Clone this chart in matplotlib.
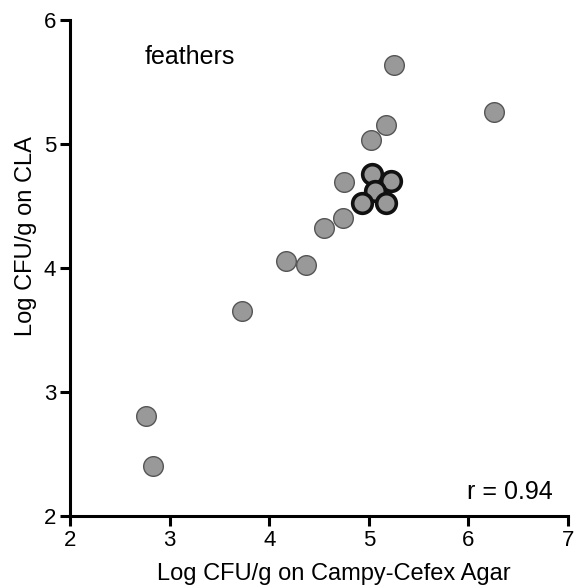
import matplotlib.pyplot as plt

plt.rcParams["font.family"] = ["Liberation Sans", "DejaVu Sans"]

# open circles (single isolates)
x_thin = [5.25, 6.26, 5.17, 5.02, 4.75, 4.74, 4.55, 4.17, 4.37, 3.73, 2.76, 2.83]
y_thin = [5.64, 5.26, 5.15, 5.03, 4.69, 4.40, 4.32, 4.06, 4.02, 3.65, 2.81, 2.40]

# highlighted points with heavy outline
x_bold = [5.03, 5.22, 5.06, 4.93, 5.17]
y_bold = [4.76, 4.70, 4.62, 4.52, 4.52]

fig = plt.figure(figsize=(5.74, 5.87), dpi=100)
ax = fig.add_axes([0.122, 0.121, 0.8675, 0.845])

ax.scatter(x_thin, y_thin, s=200, c='#999999', edgecolors='#555555', linewidths=1.0, zorder=3)
ax.scatter(x_bold, y_bold, s=200, c='#999999', edgecolors='#111111', linewidths=2.6, zorder=4)

ax.set_xlim(2, 7)
ax.set_ylim(2, 6)
ax.set_xticks([2, 3, 4, 5, 6, 7])
ax.set_yticks([2, 3, 4, 5, 6])

for s in ['top', 'right']:
    ax.spines[s].set_visible(False)
for s in ['left', 'bottom']:
    ax.spines[s].set_linewidth(2.2)
ax.tick_params(width=2.2, length=7, labelsize=16, direction='out', pad=3)

ax.set_xlabel('Log CFU/g on Campy-Cefex Agar', fontsize=17)
ax.set_ylabel('Log CFU/g on CLA', fontsize=17)
ax.xaxis.set_label_coords(0.53, -0.095)
ax.yaxis.set_label_coords(-0.066, 0.565)

ax.text(2.75, 5.70, 'feathers', fontsize=18, va='center', ha='left')
ax.text(6.85, 2.19, 'r = 0.94', fontsize=18, va='center', ha='right')

plt.savefig('out.png', dpi=100)
